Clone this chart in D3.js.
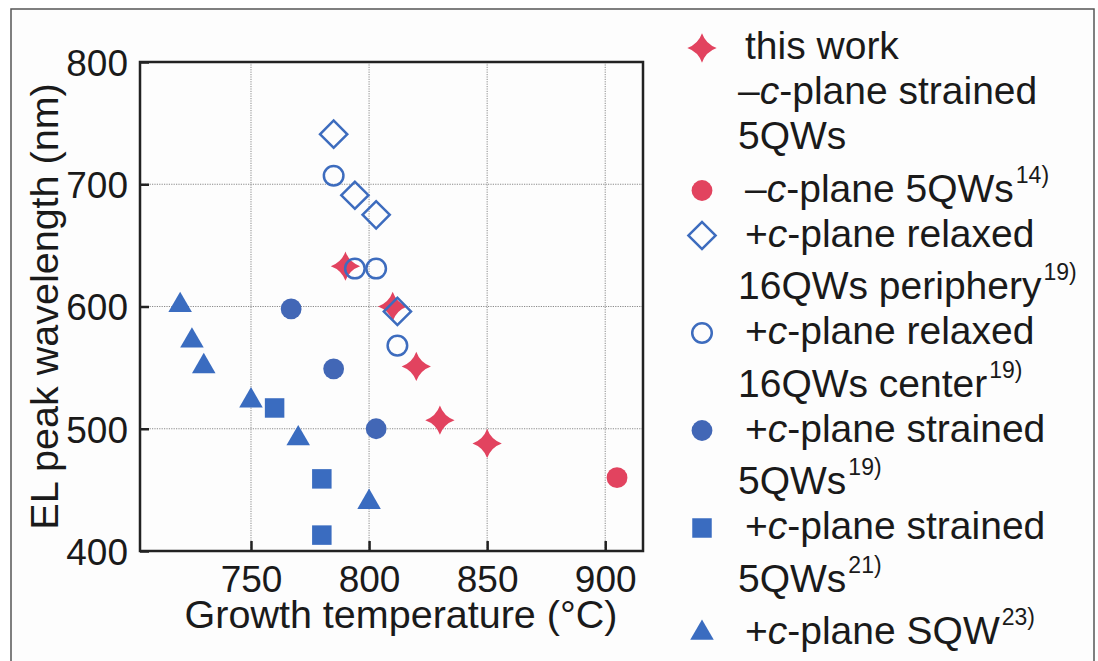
<!DOCTYPE html>
<html>
<head>
<meta charset="utf-8">
<script src="https://cdn.jsdelivr.net/npm/d3@7"></script>
<style>
  body { margin: 0; background: #fff; }
  svg { display: block; font-family: "Liberation Sans", Arial, sans-serif; }
</style>
</head>
<body>
<div id="chart"></div>
<script>
// Data: growth temperature (°C) vs EL peak wavelength (nm)
const thisWorkT = [790, 810, 820, 830, 850];
const thisWorkWl = [633, 600, 551, 507, 488];

const minusC5qwT = [905];
const minusC5qwWl = [460];

const relaxedPeriT = [785, 794, 803, 812];
const relaxedPeriWl = [741, 691, 675, 596];

const relaxedCenterT = [785, 794, 803, 812];
const relaxedCenterWl = [707, 631, 631, 568];

const strained19T = [767, 785, 803];
const strained19Wl = [598, 549, 500];

const strained21T = [760, 780, 780];
const strained21Wl = [517, 459, 413];

const sqwT = [720, 725, 730, 750, 770, 800];
const sqwWl = [601, 572, 551, 523, 492, 440];

const xTicks = [750, 800, 850, 900];
const yTicks = [400, 500, 600, 700, 800];

// legend text, one array of lines per entry; *c* = italic, ^..^ = superscript
const legendLines = [
  ['this work', '–*c*-plane strained', '5QWs'],
  ['–*c*-plane 5QWs^14)^'],
  ['+*c*-plane relaxed', '16QWs periphery^19)^'],
  ['+*c*-plane relaxed', '16QWs center^19)^'],
  ['+*c*-plane strained', '5QWs^19)^'],
  ['+*c*-plane strained', '5QWs^21)^'],
  ['+*c*-plane SQW^23)^']
];

const red = '#e2435f';
const blue = '#3d6cbe';

// 4-pointed star with concave sides
const star4 = {
  draw(context, size) {
    const r = Math.sqrt(size) / 2;
    const k = r * 0.26;
    context.moveTo(0, -r);
    context.quadraticCurveTo(k, -k, r, 0);
    context.quadraticCurveTo(k, k, 0, r);
    context.quadraticCurveTo(-k, k, -r, 0);
    context.quadraticCurveTo(-k, -k, 0, -r);
    context.closePath();
  }
};

const series = [
  { t: thisWorkT, wl: thisWorkWl, type: star4, size: 860, fill: red, stroke: 'none', rotate: 0 },
  { t: minusC5qwT, wl: minusC5qwWl, type: d3.symbolCircle, size: 340, fill: red, stroke: 'none', rotate: 0 },
  { t: relaxedPeriT, wl: relaxedPeriWl, type: d3.symbolSquare, size: 370, fill: 'none', stroke: blue, rotate: 45 },
  { t: relaxedCenterT, wl: relaxedCenterWl, type: d3.symbolCircle, size: 300, fill: 'none', stroke: blue, rotate: 0 },
  { t: strained19T, wl: strained19Wl, type: d3.symbolCircle, size: 340, fill: '#4267b6', stroke: 'none', rotate: 0 },
  { t: strained21T, wl: strained21Wl, type: d3.symbolSquare, size: 380, fill: '#3a6cc0', stroke: 'none', rotate: 0 },
  { t: sqwT, wl: sqwWl, type: d3.symbolTriangle, size: 240, fill: '#3a6cc0', stroke: 'none', rotate: 0 }
];

const width = 1098;
const height = 661;
const plot = { left: 140, top: 62, right: 643, bottom: 551 };

const svg = d3.select('#chart')
  .append('svg')
  .attr('width', width)
  .attr('height', height);

// outer figure frame
svg.append('rect')
  .attr('x', 11).attr('y', 9)
  .attr('width', 1083).attr('height', 700)
  .attr('fill', '#fdfdfd')
  .attr('stroke', '#555')
  .attr('stroke-width', 1.5);

const x = d3.scaleLinear().domain([703, 916]).range([plot.left, plot.right]);
const y = d3.scaleLinear().domain([400, 800]).range([plot.bottom, plot.top]);

// dotted grid
svg.append('g')
  .selectAll('line')
  .data(xTicks)
  .join('line')
  .attr('x1', d => x(d)).attr('x2', d => x(d))
  .attr('y1', plot.top).attr('y2', plot.bottom)
  .attr('stroke', '#8a8a8a')
  .attr('stroke-width', 1)
  .attr('stroke-dasharray', '1.2,1.2');

svg.append('g')
  .selectAll('line')
  .data(yTicks.slice(1, -1))
  .join('line')
  .attr('x1', plot.left).attr('x2', plot.right)
  .attr('y1', d => y(d)).attr('y2', d => y(d))
  .attr('stroke', '#8a8a8a')
  .attr('stroke-width', 1)
  .attr('stroke-dasharray', '1.2,1.2');

// axes with inward ticks
const xAxis = svg.append('g')
  .attr('transform', `translate(0,${plot.bottom})`)
  .call(d3.axisBottom(x).tickValues(xTicks).tickSizeInner(-10).tickSizeOuter(0).tickPadding(15));

const yAxis = svg.append('g')
  .attr('transform', `translate(${plot.left},0)`)
  .call(d3.axisLeft(y).tickValues(yTicks).tickSizeInner(-9).tickSizeOuter(0).tickPadding(12));

[xAxis, yAxis].forEach(g => {
  g.select('.domain').remove();
  g.selectAll('.tick line').attr('stroke', '#222').attr('stroke-width', 2.5);
  g.selectAll('.tick text')
    .attr('fill', '#1a1a1a')
    .style('font-size', '37px')
    .style('font-family', '"Liberation Sans", Arial, sans-serif');
});
xAxis.selectAll('.tick text').attr('dy', '0.71em');
yAxis.selectAll('.tick text').attr('dy', '0.36em');

// plot frame
svg.append('rect')
  .attr('x', plot.left).attr('y', plot.top)
  .attr('width', plot.right - plot.left)
  .attr('height', plot.bottom - plot.top)
  .attr('fill', 'none')
  .attr('stroke', '#222')
  .attr('stroke-width', 2.5);

// axis titles
svg.append('text')
  .attr('x', 401).attr('y', 628)
  .attr('text-anchor', 'middle')
  .attr('fill', '#1a1a1a')
  .style('font-size', '39.5px')
  .text('Growth temperature (°C)');

svg.append('text')
  .attr('transform', `translate(58,${(plot.top + plot.bottom) / 2}) rotate(-90)`)
  .attr('text-anchor', 'middle')
  .attr('fill', '#1a1a1a')
  .style('font-size', '39.5px')
  .text('EL peak wavelength (nm)');

// markers
series.forEach(s => {
  const sym = d3.symbol().type(s.type).size(s.size);
  svg.append('g')
    .selectAll('path')
    .data(s.t.map((t, i) => [t, s.wl[i]]))
    .join('path')
    .attr('d', sym)
    .attr('transform', d => `translate(${x(d[0])},${y(d[1])}) rotate(${s.rotate})`)
    .attr('fill', s.fill)
    .attr('stroke', s.stroke)
    .attr('stroke-width', 2.5);
});

// legend
function addRichText(textSel, str) {
  const parts = str.split(/(\*[^*]+\*|\^[^^]+\^)/).filter(p => p.length);
  parts.forEach(p => {
    if (p.startsWith('*')) {
      textSel.append('tspan').style('font-style', 'italic').text(p.slice(1, -1));
    } else if (p.startsWith('^')) {
      textSel.append('tspan')
        .attr('dy', -19).attr('dx', 2)
        .style('font-size', '23px')
        .text(p.slice(1, -1));
    } else {
      textSel.append('tspan').text(p);
    }
  });
}

const legend = svg.append('g');
let baseline = 59;
legendLines.forEach((lines, i) => {
  const s = series[i];
  const sym = d3.symbol().type(s.type).size(s.size);
  legend.append('path')
    .attr('d', sym)
    .attr('transform', `translate(702,${baseline - 11}) rotate(${s.rotate})`)
    .attr('fill', s.fill)
    .attr('stroke', s.stroke)
    .attr('stroke-width', 2.5);
  lines.forEach((line, j) => {
    const t = legend.append('text')
      .attr('x', j === 0 ? 745 : 738)
      .attr('y', baseline)
      .attr('fill', '#1a1a1a')
      .style('font-size', '39px');
    addRichText(t, line);
    // lines followed by a superscripted line sit a little further apart
    const next = j + 1 < lines.length ? lines[j + 1] : (legendLines[i + 1] || [''])[0];
    baseline += next.includes('^') ? 52.5 : 45;
  });
});
</script>
</body>
</html>
